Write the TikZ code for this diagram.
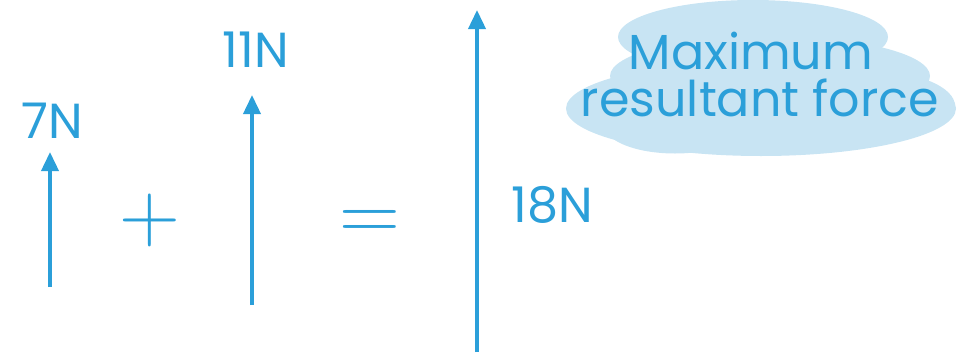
\documentclass[tikz,border=0pt]{standalone}
\usepackage{fontspec}
\setmainfont{Poppins}
\newfontfamily\signfont{Latin Modern Roman}
\usetikzlibrary{arrows.meta, positioning}
\definecolor{penblue}{HTML}{2B9FD9}
\definecolor{cloudblue}{HTML}{C8E4F3}

\begin{document}
\begin{tikzpicture}[
    force/.style={draw=penblue, line width=2.1pt, -{Triangle[length=0.38cm, width=0.34cm]}},
    label/.style={text=penblue, font=\fontsize{28}{28}\selectfont, inner sep=0pt},
    sign/.style={text=penblue, font=\signfont\fontsize{48}{48}\selectfont, inner sep=0pt},
    cloudtext/.style={text=penblue, font=\fontsize{28}{30}\selectfont, inner sep=0pt}
]
\useasboundingbox (0,0) rectangle (19.2,7.12);

% Cloud behind the note
\fill[cloudblue] (15.06,6.38) ellipse (2.7 and 0.74);
\fill[cloudblue] (15.22,4.95) ellipse (3.9 and 0.95);
\fill[cloudblue] (13.5,4.6) ellipse (1.4 and 0.55);
\fill[cloudblue] (17.4,5.0) ellipse (1.7 and 0.7);
\fill[cloudblue] (15.4,5.6) ellipse (3.2 and 0.8);

% Forces
\coordinate (f1base) at (1.0,1.38);
\coordinate (f1tip) at (1.0,4.08);
\coordinate (f2base) at (5.04,1.02);
\coordinate (f2tip) at (5.04,5.22);
\coordinate (f3base) at (9.54,0.08);
\coordinate (f3tip) at (9.54,6.92);
\draw[force] (f1base) -- (f1tip);
\draw[force] (f2base) -- (f2tip);
\draw[force] (f3base) -- (f3tip);

% Labels
\node[label] (f1lab) at (1.04,4.70) {7N};
\node[label] (f2lab) at (5.12,6.12) {11N};
\node[label] (f3lab) at (11.04,3.02) {18N};
\node[sign] (plus) at (3.0,2.72) {+};
\node[sign] (equals) at (7.4,2.62) {=};

% Note
\node[cloudtext] (maxline) at (15.02,6.1) {Maximum};
\node[cloudtext] (resline) at (15.2,5.16) {resultant force};
\end{tikzpicture}
\end{document}
